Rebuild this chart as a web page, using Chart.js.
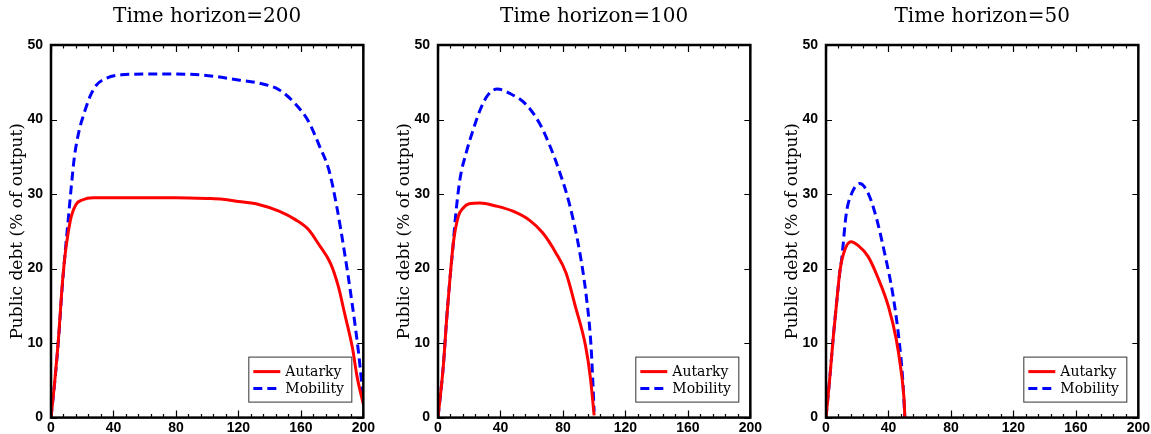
<!DOCTYPE html>
<html>
<head>
<meta charset="utf-8">
<script src="https://cdn.jsdelivr.net/npm/chart.js@4.4.1/dist/chart.umd.min.js"></script>
<style>
  html, body { margin: 0; padding: 0; background: #fff; overflow: hidden; }
  .panel { position: absolute; top: 0; width: 377px; height: 434px; }
</style>
</head>
<body>
<div class="panel" style="left:0px"><canvas id="c200" width="377" height="434"></canvas></div>
<div class="panel" style="left:387px"><canvas id="c100" width="377" height="434"></canvas></div>
<div class="panel" style="left:775px"><canvas id="c50" width="377" height="434"></canvas></div>
<script>
// Deuda pública (% del producto) según horizonte temporal
const xTicks = [0, 40, 80, 120, 160, 200];
const yTicks = [0, 10, 20, 30, 40, 50];
const seriesLabels = ['Autarky', 'Mobility'];

// horizonte 200
const autarky200T = [0, 2.5, 5, 7, 9, 11, 13, 16, 20, 27, 40, 60, 80, 100, 110, 120, 133, 146, 157, 165, 171, 179, 184, 188, 193, 196, 200];
const autarky200 = [0, 5.1, 11.2, 17.3, 21.8, 24.8, 27, 28.6, 29.2, 29.5, 29.5, 29.5, 29.5, 29.4, 29.3, 29, 28.6, 27.7, 26.5, 25.2, 23.4, 20.7, 17.6, 14, 9.4, 5.5, 1.8];
const mobility200T = [0, 2.5, 5, 7, 9, 11, 13, 15, 18, 21, 25, 29, 35, 45, 65, 80, 95, 108, 120, 133, 146, 156, 165, 172, 178, 183, 188, 192.5, 197, 200];
const mobility200 = [0, 5, 11, 17, 22, 26.5, 31, 35, 38.5, 40.7, 43.1, 44.6, 45.5, 46, 46.1, 46.1, 46, 45.7, 45.3, 44.9, 44, 42.2, 39.7, 36.4, 33.2, 28.3, 22.1, 15.8, 8.6, 2.5];

// horizonte 100
const autarky100T = [0, 3.4, 5.5, 7.6, 9.8, 13, 16, 20, 27, 37, 48, 58.5, 67, 75.5, 82, 88, 94.5, 97.5, 100];
const autarky100 = [0, 6.9, 13.1, 18.5, 23.4, 27, 28.1, 28.7, 28.8, 28.4, 27.7, 26.5, 24.8, 22.1, 19.4, 14.9, 9.6, 5.5, 0.3];
const mobility100T = [0, 3.4, 5.5, 7.6, 9.8, 11, 14, 18, 22.5, 27, 32, 38, 46, 56.5, 65, 71, 77.5, 84, 90.5, 95, 98, 100];
const mobility100 = [0, 6.9, 13.1, 18.5, 23.4, 26.5, 31.9, 35.5, 38.6, 41.3, 43.3, 44.1, 43.5, 42, 39.5, 36.8, 33.2, 28.8, 22.5, 16.2, 9.6, 0.8];

// horizonte 50
const autarky50T = [0, 2.5, 4.7, 6.8, 9, 12, 16, 20.5, 27, 33, 40, 45, 48, 50, 50.5];
const autarky50 = [0, 5.5, 10.9, 15.4, 19.8, 22.5, 23.6, 23.1, 21.6, 18.9, 14.9, 10.5, 6.4, 2.4, 0];
const mobility50T = [0, 2.5, 4.7, 6.8, 9, 10, 13, 16.5, 21.5, 27, 32, 37.5, 43, 47, 49, 50.5];
const mobility50 = [0, 5.5, 10.9, 15.4, 19.8, 21.2, 27.4, 30.1, 31.4, 30.1, 27, 22.1, 16.3, 10, 5.5, 0];

const toPoints = (ts, vs) => ts.map((t, i) => ({ x: t, y: vs[i] }));

// marco, marcas internas y leyenda con recuadro
const framePlugin = {
    id: 'frame',
    afterDatasetsDraw(chart) {
        const ctx = chart.ctx;
        const ca = chart.chartArea;
        const xs = chart.scales.x;
        const ys = chart.scales.y;
        ctx.save();
        ctx.strokeStyle = '#000';
        ctx.lineWidth = 1.2;
        ctx.beginPath();
        for (let v = xs.min; v <= xs.max; v += 8) {
            const px = Math.round(xs.getPixelForValue(v)) + 0.5;
            const len = v % 40 === 0 ? 7 : 3.5;
            ctx.moveTo(px, ca.bottom); ctx.lineTo(px, ca.bottom - len);
            ctx.moveTo(px, ca.top); ctx.lineTo(px, ca.top + len);
        }
        yTicks.forEach(v => {
            const py = Math.round(ys.getPixelForValue(v)) + 0.5;
            ctx.moveTo(ca.left, py); ctx.lineTo(ca.left + 6, py);
            ctx.moveTo(ca.right, py); ctx.lineTo(ca.right - 6, py);
        });
        ctx.stroke();

        ctx.lineWidth = 2.5;
        ctx.strokeRect(ca.left, ca.top, ca.right - ca.left, ca.bottom - ca.top);

        // leyenda
        const bw = 103, bh = 45;
        const bx = ca.right - 115, by = ca.bottom - 61;
        ctx.fillStyle = '#fff';
        ctx.fillRect(bx, by, bw, bh);
        ctx.lineWidth = 1;
        ctx.strokeStyle = '#333';
        ctx.strokeRect(bx + 0.5, by + 0.5, bw, bh);
        ctx.font = '14px "DejaVu Serif"';
        ctx.textBaseline = 'middle';
        ctx.textAlign = 'left';
        chart.data.datasets.forEach((ds, i) => {
            const ry = by + 15 + i * 17;
            ctx.strokeStyle = ds.borderColor;
            ctx.lineWidth = ds.borderWidth;
            ctx.setLineDash(ds.borderDash || []);
            ctx.beginPath();
            ctx.moveTo(bx + 5, ry); ctx.lineTo(bx + 32, ry);
            ctx.stroke();
            ctx.setLineDash([]);
            ctx.fillStyle = '#000';
            ctx.fillText(ds.label, bx + 37, ry + 1);
        });
        ctx.restore();
    }
};

function crearPanel(id, horizonte, autT, aut, movT, mov) {
    const ctx = document.getElementById(id).getContext('2d');
    return new Chart(ctx, {
        type: 'line',
        data: {
            datasets: [{
                label: seriesLabels[0],
                data: toPoints(autT, aut),
                borderColor: '#ff0000',
                borderWidth: 3,
                pointRadius: 0,
                cubicInterpolationMode: 'monotone',
                fill: false
            }, {
                label: seriesLabels[1],
                data: toPoints(movT, mov),
                borderColor: '#0000ff',
                borderWidth: 3,
                borderDash: [9, 5],
                pointRadius: 0,
                cubicInterpolationMode: 'monotone',
                fill: false
            }]
        },
        options: {
            responsive: false,
            animation: false,
            devicePixelRatio: 1,
            layout: { padding: { left: 0, right: 12, top: 0, bottom: 0 } },
            plugins: {
                legend: { display: false },
                tooltip: { enabled: false },
                title: {
                    display: true,
                    text: 'Time horizon=' + horizonte,
                    fullSize: false,
                    color: '#000',
                    font: { family: 'DejaVu Serif', size: 20, weight: 'normal' },
                    padding: { top: 5, bottom: 16 }
                }
            },
            scales: {
                x: {
                    type: 'linear',
                    min: xTicks[0],
                    max: xTicks[xTicks.length - 1],
                    afterBuildTicks: s => { s.ticks = xTicks.map(v => ({ value: v })); },
                    afterFit: s => { s.height = 16; },
                    grid: { display: false, drawTicks: false },
                    border: { display: false },
                    ticks: {
                        color: '#000',
                        padding: 2,
                        maxRotation: 0,
                        autoSkip: false,
                        font: { family: 'Liberation Sans', size: 14, weight: 'bold' }
                    }
                },
                y: {
                    min: yTicks[0],
                    max: yTicks[yTicks.length - 1],
                    afterBuildTicks: s => { s.ticks = yTicks.map(v => ({ value: v })); },
                    afterFit: s => { s.width = 51; },
                    grid: { display: false, drawTicks: false },
                    border: { display: false },
                    ticks: {
                        color: '#000',
                        padding: 8,
                        font: { family: 'Liberation Sans', size: 14, weight: 'bold' }
                    },
                    title: {
                        display: true,
                        text: 'Public debt (% of output)',
                        color: '#000',
                        font: { family: 'DejaVu Serif', size: 17, weight: 'normal' },
                        padding: { top: 7, bottom: 0 }
                    }
                }
            }
        },
        plugins: [framePlugin]
    });
}

crearPanel('c200', 200, autarky200T, autarky200, mobility200T, mobility200);
crearPanel('c100', 100, autarky100T, autarky100, mobility100T, mobility100);
crearPanel('c50', 50, autarky50T, autarky50, mobility50T, mobility50);
</script>
</body>
</html>
